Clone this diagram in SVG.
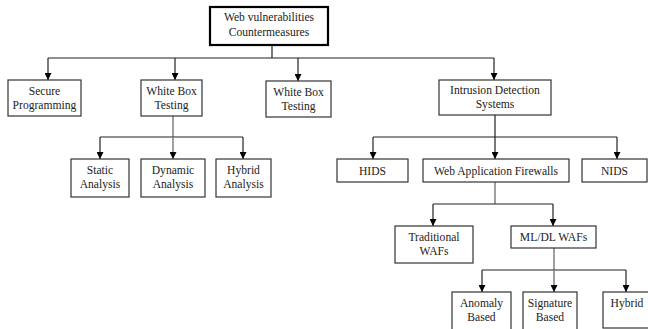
<svg xmlns="http://www.w3.org/2000/svg" width="648" height="329" viewBox="0 0 648 329">
  <style>
    .box { fill: #fff; stroke: #333; stroke-width: 1.2; }
    .root { fill: #fff; stroke: #000; stroke-width: 2.2; }
    .lbl { font-family: "Liberation Serif", "DejaVu Serif", serif; font-size: 11.6px; fill: #222; text-anchor: middle; }
    .wire { fill: none; stroke: #222; stroke-width: 1.2; }
    .stem { fill: none; stroke: #888; stroke-width: 1.6; }
  </style>
  <defs>
    <marker id="arr" viewBox="0 0 10 10" refX="10" refY="5" markerWidth="7" markerHeight="7" markerUnits="userSpaceOnUse" orient="auto">
      <path d="M0,0 L10,5 L0,10 z" fill="#000"/>
    </marker>
  </defs>

  <g id="connectors">
    <!-- root to level 1 -->
    <path class="wire" d="M272,45 V58"/>
    <path class="wire" d="M48,58 H494"/>
    <path class="wire" d="M48,58 V80" marker-end="url(#arr)"/>
    <path class="wire" d="M175,58 V80" marker-end="url(#arr)"/>
    <path class="wire" d="M298,58 V81" marker-end="url(#arr)"/>
    <path class="wire" d="M494,58 V80" marker-end="url(#arr)"/>
    <!-- white box testing to analyses -->
    <path class="stem" d="M173,116 V137"/>
    <path class="wire" d="M100,137 H243"/>
    <path class="wire" d="M100,137 V159" marker-end="url(#arr)"/>
    <path class="stem" d="M173,137 V159" marker-end="url(#arr)"/>
    <path class="wire" d="M243,137 V159" marker-end="url(#arr)"/>
    <!-- IDS to HIDS / WAF / NIDS -->
    <path class="wire" d="M495,115 V137"/>
    <path class="wire" d="M373,137 H617"/>
    <path class="wire" d="M373,137 V159" marker-end="url(#arr)"/>
    <path class="wire" d="M495,137 V159" marker-end="url(#arr)"/>
    <path class="wire" d="M617,137 V159" marker-end="url(#arr)"/>
    <!-- WAF to traditional / ML -->
    <path class="stem" d="M495,182 V204"/>
    <path class="wire" d="M433,204 H553"/>
    <path class="wire" d="M433,204 V226" marker-end="url(#arr)"/>
    <path class="wire" d="M553,204 V226" marker-end="url(#arr)"/>
    <!-- ML/DL WAFs to subtypes -->
    <path class="stem" d="M554,248 V270"/>
    <path class="wire" d="M482,270 H626"/>
    <path class="wire" d="M482,270 V292" marker-end="url(#arr)"/>
    <path class="stem" d="M554,270 V292" marker-end="url(#arr)"/>
    <path class="wire" d="M626,270 V292" marker-end="url(#arr)"/>
  </g>

  <g id="root">
    <rect class="root" x="210" y="7" width="118" height="38"/>
    <text class="lbl" x="269" y="21">Web vulnerabilities</text>
    <text class="lbl" x="269" y="36">Countermeasures</text>
  </g>
  <g id="secure-programming">
    <rect class="box" x="8" y="80" width="73" height="36"/>
    <text class="lbl" x="44.5" y="95">Secure</text>
    <text class="lbl" x="44.5" y="109">Programming</text>
  </g>
  <g id="white-box-1">
    <rect class="box" x="141" y="80" width="61" height="36"/>
    <text class="lbl" x="171.5" y="95">White Box</text>
    <text class="lbl" x="171.5" y="109">Testing</text>
  </g>
  <g id="white-box-2">
    <rect class="box" x="266" y="81" width="65" height="36"/>
    <text class="lbl" x="298.5" y="96">White Box</text>
    <text class="lbl" x="298.5" y="110">Testing</text>
  </g>
  <g id="ids">
    <rect class="box" x="439" y="80" width="112" height="35"/>
    <text class="lbl" x="495" y="94">Intrusion Detection</text>
    <text class="lbl" x="495" y="108">Systems</text>
  </g>
  <g id="static">
    <rect class="box" x="71" y="159" width="58" height="38"/>
    <text class="lbl" x="100" y="174">Static</text>
    <text class="lbl" x="100" y="188">Analysis</text>
  </g>
  <g id="dynamic">
    <rect class="box" x="141" y="159" width="64" height="38"/>
    <text class="lbl" x="173" y="174">Dynamic</text>
    <text class="lbl" x="173" y="188">Analysis</text>
  </g>
  <g id="hybrid-analysis">
    <rect class="box" x="216" y="159" width="55" height="38"/>
    <text class="lbl" x="243.5" y="174">Hybrid</text>
    <text class="lbl" x="243.5" y="188">Analysis</text>
  </g>
  <g id="hids">
    <rect class="box" x="337" y="159" width="71" height="23"/>
    <text class="lbl" x="372.5" y="175">HIDS</text>
  </g>
  <g id="waf">
    <rect class="box" x="423" y="159" width="146" height="23"/>
    <text class="lbl" x="496" y="175">Web Application Firewalls</text>
  </g>
  <g id="nids">
    <rect class="box" x="582" y="159" width="65" height="23"/>
    <text class="lbl" x="614.5" y="175">NIDS</text>
  </g>
  <g id="traditional">
    <rect class="box" x="395" y="226" width="78" height="37"/>
    <text class="lbl" x="434" y="241">Traditional</text>
    <text class="lbl" x="434" y="255">WAFs</text>
  </g>
  <g id="ml-dl">
    <rect class="box" x="511" y="226" width="85" height="22"/>
    <text class="lbl" x="553.5" y="241">ML/DL WAFs</text>
  </g>
  <g id="anomaly">
    <rect class="box" x="452" y="292" width="59" height="40"/>
    <text class="lbl" x="481.5" y="307">Anomaly</text>
    <text class="lbl" x="481.5" y="321">Based</text>
  </g>
  <g id="signature">
    <rect class="box" x="523" y="292" width="54" height="40"/>
    <text class="lbl" x="550" y="307">Signature</text>
    <text class="lbl" x="550" y="321">Based</text>
  </g>
  <g id="hybrid">
    <rect class="box" x="603" y="292" width="50" height="36"/>
    <text class="lbl" x="627" y="307">Hybrid</text>
  </g>
</svg>
